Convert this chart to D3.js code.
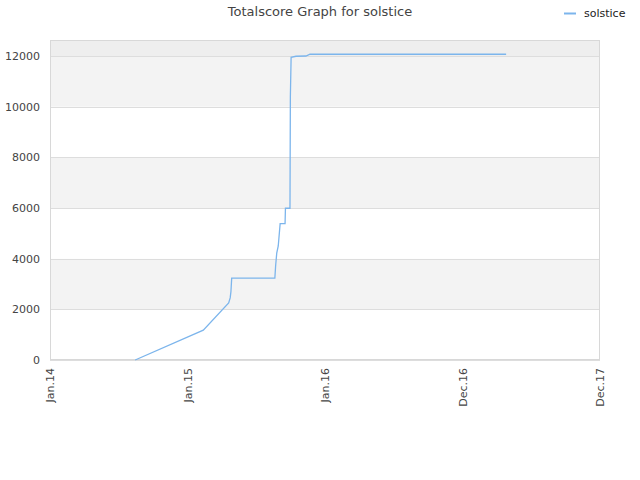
<!DOCTYPE html>
<html><head><meta charset="utf-8">
<script src="https://cdn.jsdelivr.net/npm/d3@7"></script>
<style>body{margin:0;background:#fff}svg{display:block;font-family:"DejaVu Sans",sans-serif}</style>
</head><body><svg id="c" width="640" height="480"></svg>
<script>
const seriesName = "solstice";
const dates = ["2014-08-18","2015-02-14","2015-04-22","2015-04-26","2015-04-28","2015-04-30","2015-08-22","2015-08-24","2015-08-27","2015-08-31","2015-09-05","2015-09-18","2015-09-19","2015-10-01","2015-10-02","2015-10-04","2015-10-17","2015-11-12","2015-11-23","2017-04-24"];
const values = [0,1180,2250,2450,2700,3230,3230,3700,4220,4500,5380,5380,5990,5990,10400,11950,11990,12000,12070,12070];
const xTickDates = ["2014-01-05","2015-01-03","2016-01-01","2016-12-29","2017-12-28"];
const xTickLabels = ["Jan.14","Jan.15","Jan.16","Dec.16","Dec.17"];
const yTicks = [0,2000,4000,6000,8000,10000,12000];
const yMax = 12632;

const parse = d3.timeParse("%Y-%m-%d");
const svg = d3.select("#c");
const L=50,R=600,T=40,B=360;
const x = d3.scaleTime().domain([parse(xTickDates[0]), parse(xTickDates[4])]).range([L,R]);
const y = d3.scaleLinear().domain([0,yMax]).range([B,T]);

// bands
const bandEdges = yTicks.concat([yMax]);
for (let i=0;i<bandEdges.length-1;i++){
  const c = i===bandEdges.length-2 ? "#eeeeee" : (i%2===1 ? "#f3f3f3" : "#ffffff");
  svg.append("rect").attr("x",L).attr("width",R-L)
    .attr("y",y(bandEdges[i+1])).attr("height",y(bandEdges[i])-y(bandEdges[i+1])).attr("fill",c);
}
// grid
svg.append("g").selectAll("line").data(yTicks).join("line")
  .attr("x1",L).attr("x2",R).attr("y1",d=>Math.round(y(d))+0.5).attr("y2",d=>Math.round(y(d))+0.5)
  .attr("stroke","#dddddd");
svg.append("rect").attr("x",L+0.5).attr("y",T+0.5).attr("width",R-L-1).attr("height",B-T-1)
  .attr("fill","none").attr("stroke","#d8d8d8");

// y axis labels
const yAxis = d3.axisLeft(y).tickValues(yTicks).tickSize(0).tickPadding(10).tickFormat(d3.format("d"));
const ga = svg.append("g").attr("transform",`translate(${L},0)`).call(yAxis);
ga.select(".domain").remove();
ga.selectAll("text").attr("font-size",11).attr("fill","#444").attr("font-family","DejaVu Sans");

// x axis labels
const xAxis = d3.axisBottom(x).tickValues(xTickDates.map(parse)).tickSize(0)
  .tickFormat((d,i)=>xTickLabels[i]);
const gx = svg.append("g").attr("transform",`translate(0,${B})`).call(xAxis);
gx.select(".domain").remove();
gx.selectAll("text").attr("font-size",11).attr("fill","#444").attr("font-family","DejaVu Sans")
  .attr("text-anchor","end").attr("transform","rotate(-90)").attr("x",-8).attr("y",0).attr("dy","0.35em");

// line
const pts = dates.map((d,i)=>[parse(d),values[i]]);
svg.append("path").datum(pts).attr("fill","none").attr("stroke","#7cb5ec").attr("stroke-width",1.3)
  .attr("d",d3.line().x(d=>x(d[0])).y(d=>y(d[1])));

// title
svg.append("text").attr("x",320).attr("y",16).attr("text-anchor","middle")
  .attr("font-size",13).attr("fill","#444").text("Totalscore Graph for "+seriesName);
// legend
svg.append("line").attr("x1",564).attr("x2",576).attr("y1",13.5).attr("y2",13.5).attr("stroke","#7cb5ec").attr("stroke-width",2);
svg.append("text").attr("x",584).attr("y",17).attr("font-size",11).attr("fill","#222").text(seriesName);
</script></body></html>
